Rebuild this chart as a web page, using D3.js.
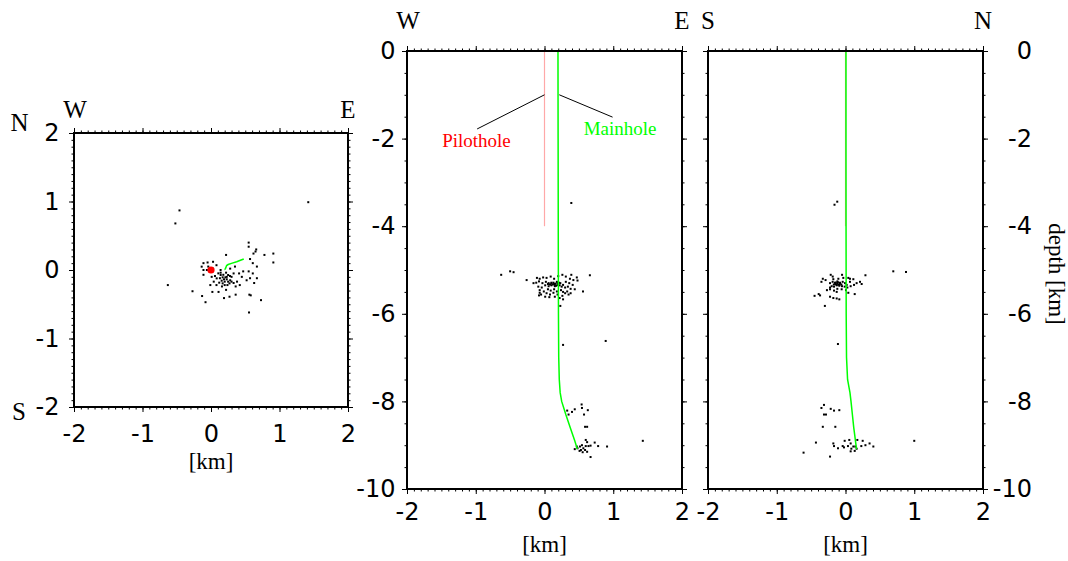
<!DOCTYPE html>
<html>
<head>
<meta charset="utf-8">
<script src="https://cdn.jsdelivr.net/npm/d3@7"></script>
<style>
  html, body { margin: 0; padding: 0; background: #fff; }
  svg { display: block; }
</style>
</head>
<body>
<script>
// ---------------- DATA (km) ----------------
// tick labels
const xTicks = [-2, -1, 0, 1, 2];
const mapYTicks = [-2, -1, 0, 1, 2];
const depthTicks = [0, -2, -4, -6, -8, -10];

// epicentres in map view: East, North
const mapE = [1.42,-0.46,-0.52,-0.63,-0.27,-0.13,-0.08,0.555,0.73,0.91,0.91,0.78,0.55,0.55,0.65,0.22,0.56,0.58,0.19,0.27,0.36,
  0.62,0.66,0.57,0.61,0.67,0.55,0.61,0.57,0.52,0.63,0.67,0.47,0.45,0.38,0.41,0.33,0.35,0.28,0.30,0.25,0.33,0.42,0.36,0.11,0.02,
  -0.11,-0.05,0.03,0.08,0.14,-0.11,-0.06,0.01,0.04,-0.01,0.08,0.16,0.20,0.22,0.13,0.18,0.23,0.28,0.20,
  0.107,0.141,0.17,0.19,0.23,0.25,0.22,0.156,0.12,0.27,0.24,0.30,0.083,0.058,0.17,0.21,0.141,0.277,-0.136,0.03,-0.04,-0.11];
const mapN = [0.99,0.87,0.68,-0.22,-0.31,-0.38,-0.47,-0.62,-0.44,0.24,0.11,0.22,0.40,0.34,0.27,0.22,-0.36,-0.37,-0.41,-0.39,-0.36,
  0.24,0.30,0.16,0.10,0.05,-0.02,-0.05,-0.12,-0.15,-0.19,-0.12,-0.02,-0.10,-0.17,-0.05,-0.05,0.05,0.02,-0.10,-0.17,-0.19,-0.22,-0.24,-0.32,-0.32,
  0.10,0.11,0.12,0.07,0.0,-0.07,0.0,-0.10,-0.17,-0.22,-0.22,-0.24,-0.22,-0.29,-0.12,-0.07,-0.10,-0.15,-0.17,
  -0.049,-0.073,-0.107,-0.136,-0.136,-0.073,-0.039,-0.156,-0.185,-0.195,-0.22,-0.17,-0.122,-0.088,-0.195,-0.107,-0.039,-0.088,0.049,0.02,0.05,0.0];

// W-E section: East, elevation
const weE = [-0.63,-0.50,-0.45,-0.26,0.66,0.56,0.48,0.47,0.39,0.23,-0.08,0.01,
  -0.11,-0.07,-0.02,0.03,0.09,0.14,0.20,0.26,0.31,0.37,0.42,-0.12,-0.08,-0.03,0.02,0.06,0.10,0.14,0.18,0.23,0.27,0.31,0.36,0.41,
  -0.09,-0.04,0.01,0.06,0.10,0.15,0.19,0.25,0.30,0.34,0.38,0.44,-0.07,-0.01,0.05,0.09,0.14,0.18,0.24,0.27,0.33,0.38,
  -0.05,0.03,0.08,0.13,0.19,0.26,0.30,0.35,0.07,0.15,0.22,0.27,-0.07,-0.16,
  0.10,0.12,0.16,0.20,0.22,0.08,0.13,0.17,0.21,0.05,0.15,0.19,
  0.39,0.27,0.89,
  0.33,0.40,0.44,0.54,0.545,0.63,0.575,0.35,0.59,0.62,0.60,0.62,0.73,0.78,0.91,1.43,0.545,0.516,0.565,0.60,0.64,0.67,0.48,0.44,0.53,0.555,0.62,0.67,0.51,0.59,0.47];
const weZ = [-5.11,-5.03,-5.05,-5.23,-5.12,-5.49,-5.24,-5.17,-5.11,-5.82,-5.58,-5.61,
  -5.18,-5.20,-5.17,-5.18,-5.15,-5.20,-5.14,-5.11,-5.15,-5.20,-5.23,-5.29,-5.26,-5.30,-5.27,-5.30,-5.29,-5.32,-5.27,-5.30,-5.34,-5.27,-5.30,-5.34,
  -5.38,-5.40,-5.35,-5.37,-5.35,-5.37,-5.34,-5.38,-5.40,-5.38,-5.43,-5.44,-5.46,-5.49,-5.44,-5.47,-5.44,-5.49,-5.46,-5.50,-5.49,-5.53,
  -5.56,-5.53,-5.56,-5.52,-5.56,-5.59,-5.53,-5.56,-5.62,-5.61,-5.64,-5.67,-5.52,-5.30,
  -5.31,-5.33,-5.31,-5.32,-5.35,-5.33,-5.29,-5.36,-5.29,-5.32,-5.34,-5.30,
  -3.47,-6.71,-6.62,
  -8.21,-8.24,-8.18,-8.07,-8.15,-8.20,-8.30,-8.30,-8.58,-8.58,-8.88,-8.93,-8.94,-9.02,-9.03,-8.90,-9.00,-9.03,-9.07,-9.02,-9.02,-9.01,-9.07,-9.09,-9.11,-9.16,-9.15,-9.27,-9.13,-9.11,-9.03];

// S-N section: North, elevation
const snN = [0.695,0.88,0.29,0.235,0.134,0.041,-0.30,-0.45,-0.39,-0.37,-0.33,-0.35,-0.29,-0.215,-0.186,-0.05,-0.27,-0.225,-0.167,-0.128,-0.225,-0.177,-0.128,-0.09,
  -0.225,-0.187,-0.153,-0.119,-0.080,-0.041,-0.007,0.017,-0.201,-0.167,-0.128,-0.090,-0.051,-0.012,0.027,0.075,0.124,0.162,0.211,
  -0.177,-0.104,-0.032,0.065,0.114,-0.225,-0.056,0.007,-0.119,0.065,0.041,
  -0.15,-0.12,-0.10,-0.08,-0.06,-0.13,-0.17,-0.09,-0.14,-0.11,
  -0.12,-0.16,-0.11,
  -0.313,-0.35,-0.215,-0.167,-0.09,-0.313,-0.284,-0.33,-0.148,-0.43,-0.61,-0.225,1.00,-0.177,-0.167,-0.109,-0.041,-0.022,-0.012,0.055,0.075,0.036,0.085,0.114,0.143,0.162,0.172,0.25,0.23,0.29,0.35,0.405,0.075,0.134];
const snZ = [-5.03,-5.045,-5.12,-5.32,-5.55,-5.52,-5.82,-5.59,-5.55,-5.58,-5.20,-5.27,-5.23,-5.11,-5.15,-5.11,-5.46,-5.44,-5.47,-5.50,-5.61,-5.64,-5.65,-5.67,
  -5.30,-5.27,-5.29,-5.26,-5.29,-5.27,-5.30,-5.34,-5.37,-5.38,-5.35,-5.34,-5.37,-5.38,-5.40,-5.37,-5.34,-5.30,-5.27,
  -5.21,-5.20,-5.18,-5.20,-5.21,-5.40,-5.44,-5.46,-5.43,-5.27,-5.18,
  -5.32,-5.31,-5.33,-5.31,-5.33,-5.34,-5.33,-5.36,-5.29,-5.28,
  -3.44,-3.51,-6.69,
  -8.08,-8.15,-8.17,-8.21,-8.20,-8.30,-8.30,-8.58,-8.58,-8.94,-9.17,-9.26,-8.90,-8.96,-9.02,-9.07,-9.02,-9.05,-8.90,-8.88,-8.96,-9.02,-9.08,-9.03,-9.03,-9.08,-8.88,-8.90,-9.02,-9.00,-8.96,-9.03,-9.14,-9.13];

// boreholes
const mainZ = [0, -2, -4, -6, -7, -7.5, -7.8, -8.0, -8.3, -8.6, -8.9, -9.09];
const mainE = [0.196, 0.198, 0.2, 0.203, 0.207, 0.215, 0.228, 0.25, 0.31, 0.375, 0.44, 0.478];
const mainN = [0.007, 0.007, 0.008, 0.01, 0.015, 0.03, 0.065, 0.08, 0.10, 0.12, 0.145, 0.16];
const pilotZ = [0, -4];
const pilotE = [0, 0];
const pilotN = [0, 0];

// ---------------- DRAW ----------------
const svg = d3.select("body").append("svg").attr("width", 1068).attr("height", 561);
const SERIF = "'Liberation Serif', 'Times New Roman', serif";
const SANS = "'DejaVu Sans', sans-serif";
const GREEN = "#00ff00", PINK = "#ffa8a8";

const xMap = d3.scaleLinear().domain([-2, 2]).range([74, 348]);
const yMap = d3.scaleLinear().domain([-2, 2]).range([407, 133]);
const xWE = d3.scaleLinear().domain([-2, 2]).range([407, 682]);
const xSN = d3.scaleLinear().domain([-2, 2]).range([708, 983]);
const yZ = d3.scaleLinear().domain([0, -10]).range([51, 489]);

const tenth = d3.range(-20, 21).map(i => i / 10);
const halfKm = d3.range(0, 21).map(i => -i / 2);

function frame(x, y, xMajor, xMinor, yMajor, yMinor) {
  const [l, r] = x.range();
  const ys = y.range();
  const t = Math.min(...ys), b = Math.max(...ys);
  const g = svg.append("g");
  const sides = [
    [d3.axisTop(x), `translate(0,${t})`, xMajor, xMinor],
    [d3.axisBottom(x), `translate(0,${b})`, xMajor, xMinor],
    [d3.axisLeft(y), `translate(${l},0)`, yMajor, yMinor],
    [d3.axisRight(y), `translate(${r},0)`, yMajor, yMinor]
  ];
  sides.forEach(([ax, tr, maj, min]) => {
    g.append("g").attr("transform", tr)
      .call(ax.tickValues(min).tickSize(2.5).tickFormat(""))
      .call(s => s.select(".domain").remove());
    g.append("g").attr("transform", tr)
      .call(ax.tickValues(maj).tickSize(5).tickFormat(""))
      .call(s => s.select(".domain").remove());
  });
  g.selectAll(".tick line").attr("stroke", "#000").attr("stroke-width", 1);
  g.append("rect").attr("x", l).attr("y", t).attr("width", r - l).attr("height", b - t)
    .attr("fill", "none").attr("stroke", "#000").attr("stroke-width", 2);
  return g;
}

function labelAxis(axis, tr, pad) {
  const g = svg.append("g").attr("transform", tr)
    .call(axis.tickSize(0).tickPadding(pad).tickFormat(d => String(d)))
    .call(s => s.select(".domain").remove());
  g.selectAll("text").attr("font-family", SANS).attr("font-size", 24).attr("fill", "#000");
  return g;
}

function txt(x, y, s, size, color, anchor) {
  return svg.append("text").attr("x", x).attr("y", y).text(s)
    .attr("font-family", SERIF).attr("font-size", size).attr("fill", color || "#000")
    .attr("text-anchor", anchor || "middle");
}

function dots(x, y, xs, ys) {
  svg.append("g").selectAll("rect").data(d3.range(xs.length)).join("rect")
    .attr("x", i => x(xs[i]) - 1).attr("y", i => y(ys[i]) - 1)
    .attr("width", 2).attr("height", 2).attr("fill", "#000");
}

function path(x, y, xs, ys, color, w) {
  const line = d3.line().x(i => x(xs[i])).y(i => y(ys[i]));
  svg.append("path").datum(d3.range(xs.length)).attr("d", line)
    .attr("fill", "none").attr("stroke", color).attr("stroke-width", w);
}

// ---- Map panel ----
dots(xMap, yMap, mapE, mapN);
path(xMap, yMap, mainE, mainN, GREEN, 1.5);
svg.append("circle").attr("cx", xMap(pilotE[0])).attr("cy", yMap(pilotN[0])).attr("r", 3.6).attr("fill", "#ff0000");
frame(xMap, yMap, xTicks, tenth, mapYTicks, tenth);
labelAxis(d3.axisBottom(xMap).tickValues(xTicks), "translate(0,407)", 18);
labelAxis(d3.axisLeft(yMap).tickValues(mapYTicks), "translate(74,0)", 14.5);
txt(75, 118, "W", 25); txt(348, 118, "E", 25);
txt(19.5, 131, "N", 25); txt(19, 420, "S", 25);
txt(211, 469, "[km]", 23);

// ---- W-E section ----
path(xWE, yZ, pilotE, pilotZ, PINK, 1.2);
dots(xWE, yZ, weE, weZ);
path(xWE, yZ, mainE, mainZ, GREEN, 1.5);
frame(xWE, yZ, xTicks, tenth, depthTicks, halfKm);
labelAxis(d3.axisBottom(xWE).tickValues(xTicks), "translate(0,489)", 14);
labelAxis(d3.axisLeft(yZ).tickValues(depthTicks), "translate(407,0)", 11.5);
txt(408, 29, "W", 25); txt(682, 29, "E", 25);
txt(544.5, 552, "[km]", 23);
// annotations (km coordinates)
const pilotLead = [[-0.98, -1.78], [0.0, -1.0]];
const mainLead = [[0.215, -1.0], [0.99, -1.51]];
[pilotLead, mainLead].forEach(seg => {
  svg.append("line").attr("x1", xWE(seg[0][0])).attr("y1", yZ(seg[0][1]))
    .attr("x2", xWE(seg[1][0])).attr("y2", yZ(seg[1][1]))
    .attr("stroke", "#000").attr("stroke-width", 1);
});
txt(xWE(-0.99), yZ(-2.2), "Pilothole", 19, "#ff0000");
txt(xWE(1.10), yZ(-1.92), "Mainhole", 19, GREEN);

// ---- S-N section ----
path(xSN, yZ, pilotN, pilotZ, PINK, 1.2);
dots(xSN, yZ, snN, snZ);
path(xSN, yZ, mainN, mainZ, GREEN, 1.5);
frame(xSN, yZ, xTicks, tenth, depthTicks, halfKm);
labelAxis(d3.axisBottom(xSN).tickValues(xTicks), "translate(0,489)", 14);
labelAxis(d3.axisRight(yZ).tickValues(depthTicks), "translate(983,0)", 49)
  .selectAll("text").attr("text-anchor", "end");
txt(708, 29, "S", 25); txt(983, 29, "N", 25);
txt(845.5, 552, "[km]", 23);
svg.append("text").attr("transform", "translate(1056,274) rotate(90)")
  .attr("text-anchor", "middle").attr("dominant-baseline", "central")
  .attr("font-family", SERIF).attr("font-size", 23).text("depth [km]");
</script>
</body>
</html>
